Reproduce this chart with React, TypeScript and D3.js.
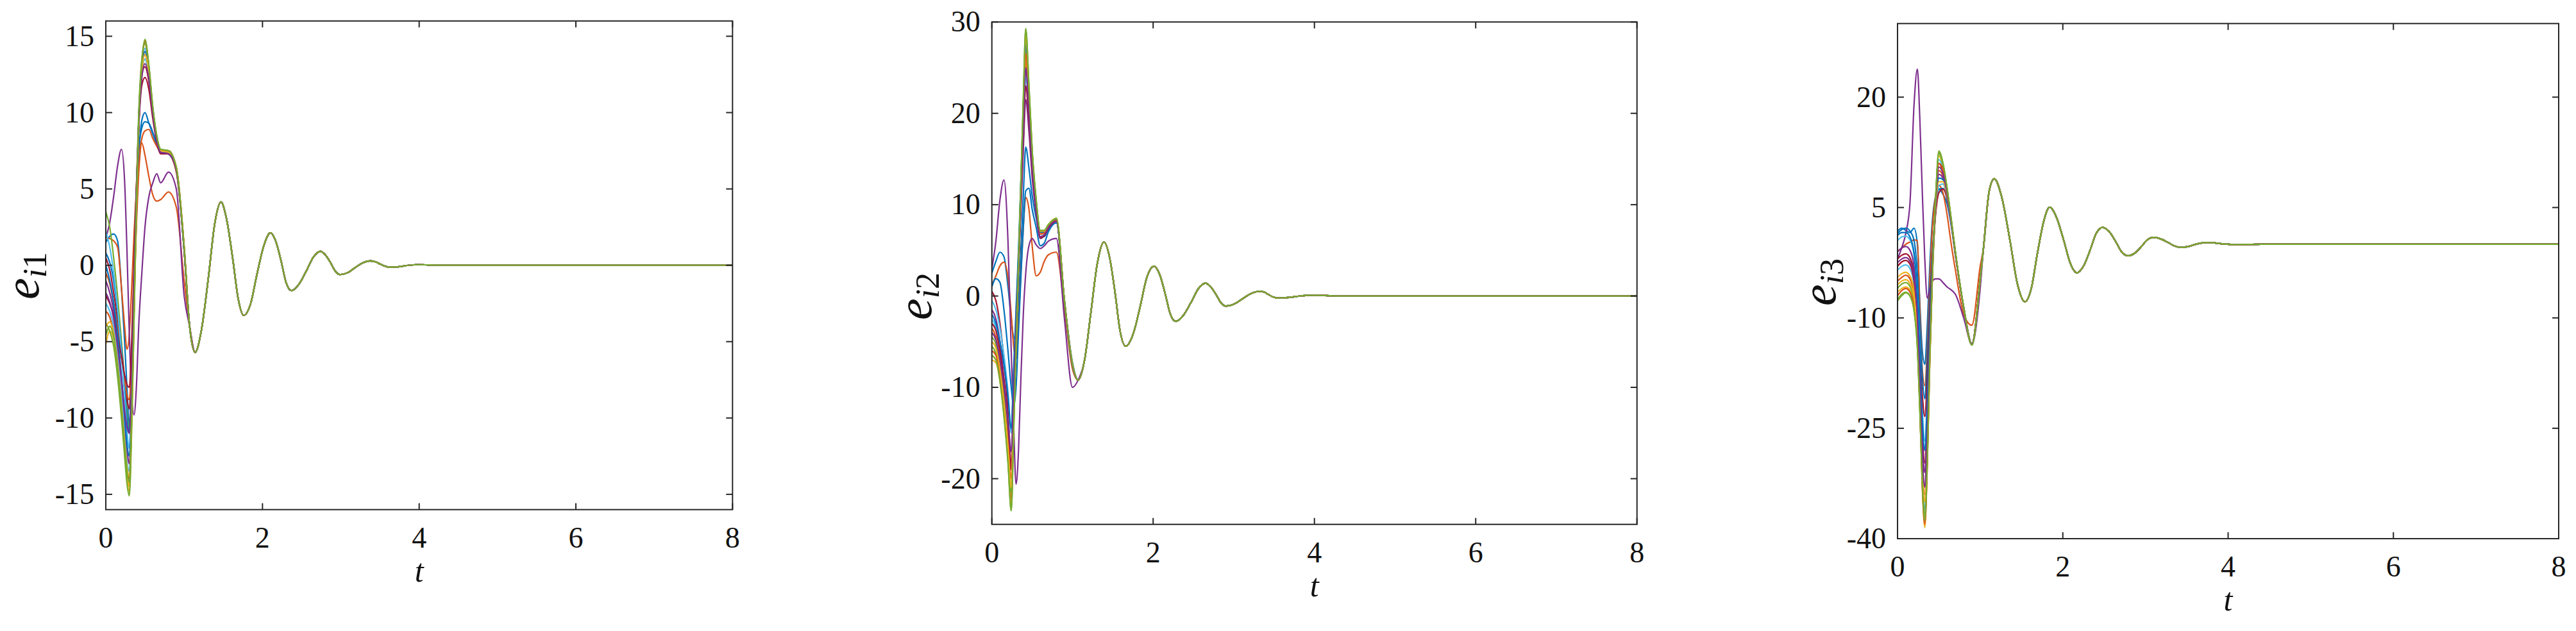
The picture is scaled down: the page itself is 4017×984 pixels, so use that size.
import React from "react";
import * as d3 from "d3";

// ---------------- DATA ----------------
const COLORS = ["#0072BD", "#D95319", "#EDB120", "#7E2F8E", "#77AC30", "#4DBEEE", "#A2142F"];
const X_TICKS = [0, 2, 4, 6, 8];
const T_HEAD = [0, 0.05, 0.1, 0.15, 0.2, 0.24, 0.27, 0.3, 0.33, 0.36, 0.39, 0.42, 0.46, 0.5, 0.55, 0.6, 0.65, 0.7, 0.8, 0.9, 1.0];

// panel 1: e_i1
const P1_YTICKS = [-15, -10, -5, 0, 5, 10, 15];
const P1_HEADS = [
  [1.5, 1.9, 2.05, 1.6, -1.5, -5, -8, -10.5, -7, -2, 3, 7, 9.5, 10.0, 9.3, 8.6, 7.9, 7.4, 7.3, 6.2, 1.2],
  [1.8, 1.75, 1.6, 1.2, -1.5, -4, -5.5, -4.5, -1.5, 2, 5, 7.3, 8.0, 7.2, 5.8, 4.6, 4.2, 4.3, 4.8, 3.8, -1.0],
  [-4.5, -4.0, -4.6, -6.5, -9, -11.5, -13.5, -14.5, -10, -3, 4, 9.5, 13, 14.0, 12.8, 10.2, 8.4, 7.5, 7.4, 6.4, 1.2],
  [1.8, 2.8, 4.5, 6.5, 7.6, 5.5, 1.0, -4.5, -8.5, -9.8, -8, -4, -0.5, 2.5, 4.5, 5.4, 6.0, 5.4, 6.1, 5.0, -2.0],
  [3.5, 2.5, 0.5, -2, -5, -7.5, -9.5, -10.9, -7, -1, 5, 10, 13.5, 14.5, 12.8, 10.2, 8.4, 7.5, 7.5, 6.4, 1.0],
  [-2.5, -3, -4, -5.8, -8.5, -11, -12.8, -13.5, -9, -2.5, 4, 9.5, 13, 14.2, 12.6, 10.0, 8.3, 7.4, 7.4, 6.3, 1.0],
  [0.5, -0.3, -1.8, -3.5, -5.5, -7.5, -8.8, -9.4, -6, -0.5, 5, 9.5, 12.5, 13.0, 12.0, 9.8, 8.2, 7.4, 7.3, 6.3, 1.1],
  [0.8, 0.2, -1, -3, -5.5, -8, -10, -11, -7, -1.5, 4, 7.5, 9.0, 9.4, 9.3, 8.7, 8.0, 7.5, 7.3, 6.2, 1.1],
  [-0.5, -1.2, -2.5, -4, -6, -7.5, -8.5, -8.8, -6, -2, 2.5, 6, 8.3, 8.8, 8.9, 8.3, 7.8, 7.4, 7.3, 6.1, 1.0],
  [-5.2, -4.3, -4.8, -6.8, -9.5, -12, -14, -14.8, -10.5, -3.5, 3.5, 9, 12.5, 13.5, 12.5, 10.1, 8.3, 7.5, 7.4, 6.3, 1.2],
  [-1.0, -1.8, -3.0, -5, -7.5, -10, -12, -13.0, -9, -2.5, 4, 9, 12.8, 13.8, 12.5, 10, 8.3, 7.4, 7.3, 6.3, 1.0],
  [-3.8, -4.3, -5.3, -7.3, -10, -12.5, -14.3, -15.1, -10.8, -3.8, 3.5, 9.2, 13.2, 14.6, 13, 10.3, 8.5, 7.6, 7.5, 6.4, 1.2],
  [2.2, 1.2, -0.5, -2.8, -5.8, -8.5, -10.8, -12.0, -8, -1.5, 4.5, 9.5, 12.8, 13.5, 12.3, 10, 8.3, 7.4, 7.4, 6.3, 1.0],
  [-2.0, -2.5, -3.3, -4.5, -6, -7.2, -7.8, -8.0, -5, 0, 5, 9, 11.8, 12.3, 11.5, 9.6, 8.1, 7.3, 7.3, 6.2, 1.0],
  [0, -1.0, -2.5, -4.5, -7.3, -9.8, -11.7, -12.5, -8.5, -2, 4.5, 9.5, 13, 14.0, 12.6, 10.1, 8.3, 7.4, 7.4, 6.3, 1.0],
  [-3.0, -3.4, -4.5, -6.5, -9.2, -11.7, -13.3, -14.0, -9.8, -3, 4, 9.5, 13.3, 14.7, 13, 10.2, 8.4, 7.5, 7.5, 6.4, 1.2],
  [-4.0, -3.7, -4.5, -6.5, -9.2, -11.5, -13.2, -13.8, -10, -3.2, 3.8, 9.2, 12.8, 13.8, 12.6, 10.1, 8.3, 7.5, 7.4, 6.4, 1.2],
  [-1.8, -2.4, -3.5, -5.3, -7.5, -9.5, -10.6, -11.0, -7.5, -1.5, 4.5, 9, 12.3, 13.2, 12.2, 9.9, 8.2, 7.4, 7.3, 6.3, 1.0],
  [-4.6, -4.0, -4.7, -6.7, -9.4, -11.8, -13.5, -14.2, -10, -3.2, 4, 9.6, 13.4, 14.8, 13.1, 10.4, 8.5, 7.6, 7.5, 6.4, 1.1],
];
const P1_TAIL_T = [1.07, 1.14, 1.22, 1.31, 1.39, 1.47, 1.54, 1.62, 1.69, 1.76, 1.85, 1.93, 2.02, 2.10, 2.17, 2.24, 2.30, 2.37, 2.46, 2.56, 2.65, 2.74, 2.80, 2.87, 2.93, 2.99, 3.09, 3.18, 3.28, 3.37, 3.44, 3.50, 3.57, 3.63, 3.72, 3.80, 3.89, 3.97, 4.3, 5, 6, 7, 8];
const P1_TAIL_V = [-4.0, -5.7, -4.26, -0.78, 2.71, 4.15, 3.06, 0.44, -2.19, -3.28, -2.49, -0.58, 1.33, 2.12, 1.57, 0.23, -1.11, -1.66, -1.28, -0.37, 0.54, 0.92, 0.70, 0.16, -0.39, -0.61, -0.48, -0.16, 0.16, 0.29, 0.23, 0.08, -0.07, -0.13, -0.11, -0.05, 0.02, 0.04, 0, 0, 0, 0, 0];

// panel 2: e_i2
const P2_YTICKS = [-20, -10, 0, 10, 20, 30];
const P2_HEADS = [
  [2.5, 3.8, 4.8, 4.3, 1.0, -2.5, -4.5, -4.8, -1, 5, 11, 16.3, 14, 11, 8.5, 6.5, 6.5, 7.3, 8.2, -0.5, -7.5],
  [1.2, 2.2, 3.3, 3.7, 2.0, -2, -5.5, -7, -3, 2.5, 7.5, 10.8, 9.5, 5.5, 2.2, 2.6, 3.8, 4.5, 4.8, -1.5, -8.0],
  [-6.5, -7, -9, -12.5, -17, -22, -14, -5, 3, 11, 19, 25.5, 21, 15, 10, 6.8, 6.9, 7.6, 8.3, -0.6, -7.6],
  [3.0, 6, 10.5, 12.7, 6, -6, -14, -20.6, -17, -9, -2, 2.5, 5.5, 6.3, 5.6, 5.2, 5.5, 6.0, 6.3, -2.5, -10.0],
  [-5.5, -6.3, -8.5, -12.5, -18, -23.5, -15, -5.5, 3.5, 12.5, 21.5, 29.2, 23, 16, 10.5, 7.2, 7.2, 7.8, 8.5, -0.5, -7.5],
  [-2.5, -3.5, -6, -10, -15.5, -21, -13, -4.5, 3.5, 12, 20.5, 28, 22, 15.5, 10, 7, 7, 7.7, 8.4, -0.5, -7.5],
  [0.5, -0.5, -3, -7, -12.5, -18.5, -11, -3.5, 3.5, 11, 18.5, 25, 20, 14, 9.5, 6.5, 6.7, 7.5, 8.2, -0.6, -7.6],
  [1.0, 1.9, 1.5, -1.5, -6, -10, -12, -10, -4, 2, 7.5, 11.5, 11.8, 9.5, 7.5, 5.5, 5.8, 7.0, 8.0, -0.5, -7.3],
  [-3.5, -4.5, -7, -11, -16.5, -22.5, -14, -5, 3, 11.5, 20, 27, 21.5, 15, 10, 6.8, 6.9, 7.6, 8.3, -0.5, -7.5],
  [-7.0, -7.3, -9.3, -13, -18, -23, -14.5, -5.5, 3, 11.5, 20, 27.5, 22, 15.5, 10.2, 7, 7, 7.7, 8.4, -0.5, -7.5],
  [-1.5, -2.5, -5, -9, -14, -19, -11.5, -4, 3, 9.5, 16, 21.5, 18, 13, 9, 6.3, 6.6, 7.4, 8.2, -0.6, -7.6],
  [-4.5, -5.3, -7.8, -11.5, -16.5, -21.5, -13.5, -5, 3.5, 12.5, 21, 28.5, 22.5, 15.8, 10.3, 7.1, 7.1, 7.8, 8.5, -0.5, -7.5],
  [-0.5, -1.5, -3.5, -6.5, -10.5, -15, -8.5, -2, 4.5, 11, 17.5, 24, 19.5, 14, 9.5, 6.5, 6.7, 7.5, 8.2, -0.6, -7.6],
  [-3, -3.8, -6, -9.5, -14, -19, -11.5, -4, 3, 10, 17, 23, 19, 13.5, 9.3, 6.4, 6.6, 7.4, 8.2, -0.6, -7.6],
  [-2, -3, -5, -7.5, -11, -14.5, -8, -1.5, 5, 12.5, 20, 27.5, 22, 15.5, 10.2, 7, 7, 7.7, 8.4, -0.5, -7.5],
  [-6, -6.5, -8.5, -12, -16, -20, -12.5, -4.5, 3, 11, 19, 26.5, 21, 15, 10, 6.8, 6.9, 7.6, 8.3, -0.5, -7.5],
  [-5, -5.7, -8, -11.8, -16.5, -21, -13, -5, 3.5, 12, 20.5, 28.5, 22.5, 15.8, 10.3, 7.1, 7.1, 7.8, 8.5, -0.5, -7.5],
  [-4, -4.8, -7, -10, -13.5, -17, -10.5, -3.5, 3.5, 11, 18, 25, 20, 14, 9.5, 6.5, 6.7, 7.5, 8.2, -0.6, -7.6],
  [-6.5, -7, -9.3, -13.2, -18.3, -23.5, -15, -5.5, 3.5, 12.5, 21.5, 29.3, 23, 16, 10.5, 7.2, 7.2, 7.8, 8.5, -0.5, -7.5],
];
const P2_TAIL_T = [1.07, 1.15, 1.23, 1.31, 1.39, 1.46, 1.53, 1.59, 1.66, 1.75, 1.84, 1.92, 2.01, 2.08, 2.15, 2.21, 2.28, 2.37, 2.47, 2.56, 2.65, 2.71, 2.78, 2.84, 2.90, 3.01, 3.11, 3.22, 3.32, 3.38, 3.43, 3.49, 3.54, 3.65, 3.76, 3.86, 3.97, 4.3, 5, 6, 7, 8];
const P2_TAIL_V = [-9.2, -6.99, -1.65, 3.69, 5.9, 4.23, 0.2, -3.83, -5.5, -4.22, -1.12, 1.98, 3.26, 2.38, 0.24, -1.9, -2.78, -2.17, -0.69, 0.8, 1.41, 1.04, 0.16, -0.73, -1.1, -0.86, -0.29, 0.29, 0.53, 0.42, 0.16, -0.11, -0.22, -0.18, -0.07, 0.04, 0.09, 0, 0, 0, 0, 0];

// panel 3: e_i3
const P3_YTICKS = [-40, -25, -10, 5, 20];
const P3_HEADS = [
  [1.8, 2.2, 1.9, 1.6, 2.2, 0, -8, -14.5, -16.3, -11, -3, 3, 6.5, 7.5, 6.8, 5.5, 2.5, -1.5, -8.5, -13.5, -5.0],
  [-1.0, -0.5, 0, 0.3, 0.6, 0.5, -9, -17, -19.2, -14, -5, 2, 6.5, 8, 7, 4, 0, -3.5, -9.5, -11, -3],
  [-6.5, -6, -5.8, -6.2, -8, -13, -22, -33, -38.5, -30, -16, -5, 5.5, 12.0, 10.5, 7.3, 3.2, -1.2, -8.6, -13.6, -4.8],
  [-2, -0.5, 1.5, 5.5, 19, 23.8, 17, 7, -2, -7.3, -6, -5, -4.7, -4.7, -5.2, -5.8, -6.2, -6.8, -10, -13.6, -6],
  [-7.7, -7.0, -6.6, -7.0, -9, -14, -22.5, -32, -37, -29, -15.5, -4.5, 6, 12.7, 11, 7.6, 3.4, -1.0, -8.5, -13.7, -4.8],
  [-3.5, -3, -2.8, -3.3, -5.5, -11, -20, -31, -36, -28, -15, -4.5, 5.5, 11.5, 10.2, 7.1, 3.1, -1.2, -8.6, -13.6, -4.8],
  [-2.0, -1.5, -1.3, -1.8, -4, -9.5, -17, -25.5, -29.7, -23, -12, -3.5, 5.5, 11.0, 9.8, 6.9, 3.0, -1.3, -8.6, -13.6, -4.8],
  [1.5, 2.0, 2.2, 1.8, 0.5, -4, -11, -18, -21, -15.5, -7.5, -1.5, 4.5, 7.5, 7.6, 6.2, 2.9, -1.3, -8.6, -13.6, -4.8],
  [-5.0, -4.5, -4.2, -4.7, -6.8, -12, -20, -30, -34, -26.5, -14, -4, 4.5, 10.0, 9.3, 6.8, 3.0, -1.2, -8.6, -13.6, -4.8],
  [-4.5, -4, -3.8, -4.3, -6.3, -12, -21, -32.5, -37.5, -29.5, -15.5, -4.8, 5, 10.5, 9.8, 7.0, 3.1, -1.2, -8.6, -13.6, -4.8],
  [-1.0, -0.5, -0.3, -0.8, -3, -8.5, -16.5, -26.5, -31, -24, -12.5, -3.5, 4.5, 9.5, 9.0, 6.7, 3.0, -1.3, -8.6, -13.6, -4.8],
  [-6.0, -5.4, -5.2, -5.7, -7.8, -13, -21.5, -32, -36.5, -28.5, -15, -4.5, 6, 12.3, 10.8, 7.5, 3.3, -1.1, -8.5, -13.7, -4.8],
  [0.5, 1.0, 1.1, 0.6, -1.5, -7, -14.5, -22.5, -26.7, -20.5, -10, -2.5, 4.5, 8.0, 8.2, 6.4, 2.9, -1.3, -8.6, -13.6, -4.8],
  [-3.0, -2.4, -2.2, -2.7, -5, -9.5, -15, -20.5, -23.4, -18, -9, -2, 4, 7.0, 7.5, 6.2, 2.9, -1.3, -8.6, -13.6, -4.8],
  [1.2, 1.6, 1.6, 1.0, -1.2, -7, -15, -24, -28, -21.5, -11, -3, 4.5, 9.0, 8.8, 6.6, 3.0, -1.3, -8.6, -13.6, -4.8],
  [-7.0, -6.3, -6.0, -6.5, -8.5, -13.5, -22, -33, -38, -30, -16, -5, 5.5, 11.0, 10.2, 7.2, 3.2, -1.2, -8.6, -13.6, -4.8],
  [-5.5, -5, -4.8, -5.3, -7.3, -12.5, -20.5, -30.5, -35, -27, -14.5, -4.5, 4.5, 8.5, 8.5, 6.6, 3.0, -1.3, -8.6, -13.6, -4.8],
  [-2.5, -2, -1.8, -2.3, -4.5, -10, -18.5, -28.5, -33, -25.5, -13.5, -4, 5, 10.5, 9.6, 6.9, 3.0, -1.2, -8.6, -13.6, -4.8],
  [-7.5, -6.8, -6.5, -7.0, -9, -14, -22.5, -32.5, -37.5, -29.5, -15.5, -4.5, 6, 12.5, 11, 7.6, 3.4, -1.0, -8.5, -13.7, -4.8],
];
const P3_TAIL_T = [1.04, 1.11, 1.17, 1.26, 1.36, 1.45, 1.54, 1.62, 1.69, 1.77, 1.84, 1.92, 2.01, 2.09, 2.17, 2.25, 2.33, 2.40, 2.48, 2.56, 2.64, 2.71, 2.79, 2.87, 2.95, 3.02, 3.10, 3.18, 3.27, 3.35, 3.43, 3.51, 3.58, 3.66, 3.73, 3.82, 3.90, 3.99, 4.07, 4.4, 5, 6, 7, 8];
const P3_TAIL_V = [-0.5, 7.3, 8.9, 6.45, 0.55, -5.35, -7.8, -5.92, -1.38, 3.17, 5.05, 3.74, 0.59, -2.56, -3.87, -2.97, -0.79, 1.4, 2.3, 1.73, 0.37, -1.0, -1.57, -1.2, -0.31, 0.58, 0.95, 0.75, 0.27, -0.22, -0.42, -0.32, -0.09, 0.14, 0.24, 0.2, 0.1, 0.0, -0.04, 0, 0, 0, 0, 0];

// ---------------- LAYOUT ----------------
const W = 4017;
const H = 984;
const FONT = "Liberation Serif";

const PANELS = [
  { heads: P1_HEADS, tailT: P1_TAIL_T, tailV: P1_TAIL_V, yDomain: [-16, 16], yTicks: P1_YTICKS, sub: "1", l: 165, r: 1142.3, t: 32.7, b: 794.7, labelX: 60, labelY: 430 },
  { heads: P2_HEADS, tailT: P2_TAIL_T, tailV: P2_TAIL_V, yDomain: [-25, 30], yTicks: P2_YTICKS, sub: "2", l: 1546.7, r: 2552.7, t: 34.3, b: 817.7, labelX: 1452, labelY: 462 },
  { heads: P3_HEADS, tailT: P3_TAIL_T, tailV: P3_TAIL_V, yDomain: [-40, 30], yTicks: P3_YTICKS, sub: "3", l: 2959, r: 3990, t: 36.7, b: 840, labelX: 2862, labelY: 440 },
];

function Panel({ cfg, idx }: { cfg: any; idx: number }) {
  const x = d3.scaleLinear().domain([0, 8]).range([cfg.l, cfg.r]);
  const y = d3.scaleLinear().domain(cfg.yDomain).range([cfg.b, cfg.t]);
  const line = d3
    .line<[number, number]>()
    .x((d) => x(d[0]))
    .y((d) => y(d[1]))
    .curve(d3.curveMonotoneX);
  const series = cfg.heads.map((h: number[]) => {
    const pts: [number, number][] = T_HEAD.map((t, i) => [t, h[i]] as [number, number]);
    const n = Math.min(cfg.tailT.length, cfg.tailV.length);
    for (let i = 0; i < n; i++) pts.push([cfg.tailT[i], cfg.tailV[i]]);
    return pts;
  });
  const tick = 10;
  const axisColor = "#262626";
  const midX = (cfg.l + cfg.r) / 2;
  const clipId = `clip${idx}`;
  return (
    <g>
      <defs>
        <clipPath id={clipId}>
          <rect x={cfg.l} y={cfg.t} width={cfg.r - cfg.l} height={cfg.b - cfg.t} />
        </clipPath>
      </defs>
      <g clipPath={`url(#${clipId})`}>
        {series.map((s: [number, number][], i: number) => (
          <path key={i} d={line(s) || ""} fill="none" stroke={COLORS[i % COLORS.length]} strokeWidth={2.2} strokeLinejoin="round" />
        ))}
      </g>
      <rect x={cfg.l} y={cfg.t} width={cfg.r - cfg.l} height={cfg.b - cfg.t} fill="none" stroke={axisColor} strokeWidth={2} />
      {X_TICKS.map((v) => (
        <g key={"x" + v}>
          <line x1={x(v)} x2={x(v)} y1={cfg.b} y2={cfg.b - tick} stroke={axisColor} strokeWidth={2} />
          <line x1={x(v)} x2={x(v)} y1={cfg.t} y2={cfg.t + tick} stroke={axisColor} strokeWidth={2} />
          <text x={x(v)} y={cfg.b + 59} textAnchor="middle" fontFamily={FONT} fontSize={46} fill="#111">
            {v}
          </text>
        </g>
      ))}
      {cfg.yTicks.map((v: number) => (
        <g key={"y" + v}>
          <line x1={cfg.l} x2={cfg.l + tick} y1={y(v)} y2={y(v)} stroke={axisColor} strokeWidth={2} />
          <line x1={cfg.r} x2={cfg.r - tick} y1={y(v)} y2={y(v)} stroke={axisColor} strokeWidth={2} />
          <text x={cfg.l - 18} y={y(v)} dy="0.33em" textAnchor="end" fontFamily={FONT} fontSize={46} fill="#111">
            {v}
          </text>
        </g>
      ))}
      <text x={midX} y={cfg.b + 112} textAnchor="middle" fontFamily={FONT} fontSize={50} fontStyle="italic" fill="#111">
        t
      </text>
      <text transform={`translate(${cfg.labelX},${cfg.labelY}) rotate(-90)`} textAnchor="middle" fontFamily={FONT} fill="#111">
        <tspan fontSize={76} fontStyle="italic">e</tspan>
        <tspan fontSize={52} fontStyle="italic" dy={12}>i</tspan>
        <tspan fontSize={52}>{cfg.sub}</tspan>
      </text>
    </g>
  );
}

export default function App() {
  return (
    <svg
      width={W}
      height={H}
      viewBox={`0 0 ${W} ${H}`}
      style={{ position: "absolute", left: 0, top: 0, background: "#fff" }}
    >
      <rect x={0} y={0} width={W} height={H} fill="#fff" />
      {PANELS.map((p, i) => (
        <Panel key={i} cfg={p} idx={i} />
      ))}
    </svg>
  );
}
